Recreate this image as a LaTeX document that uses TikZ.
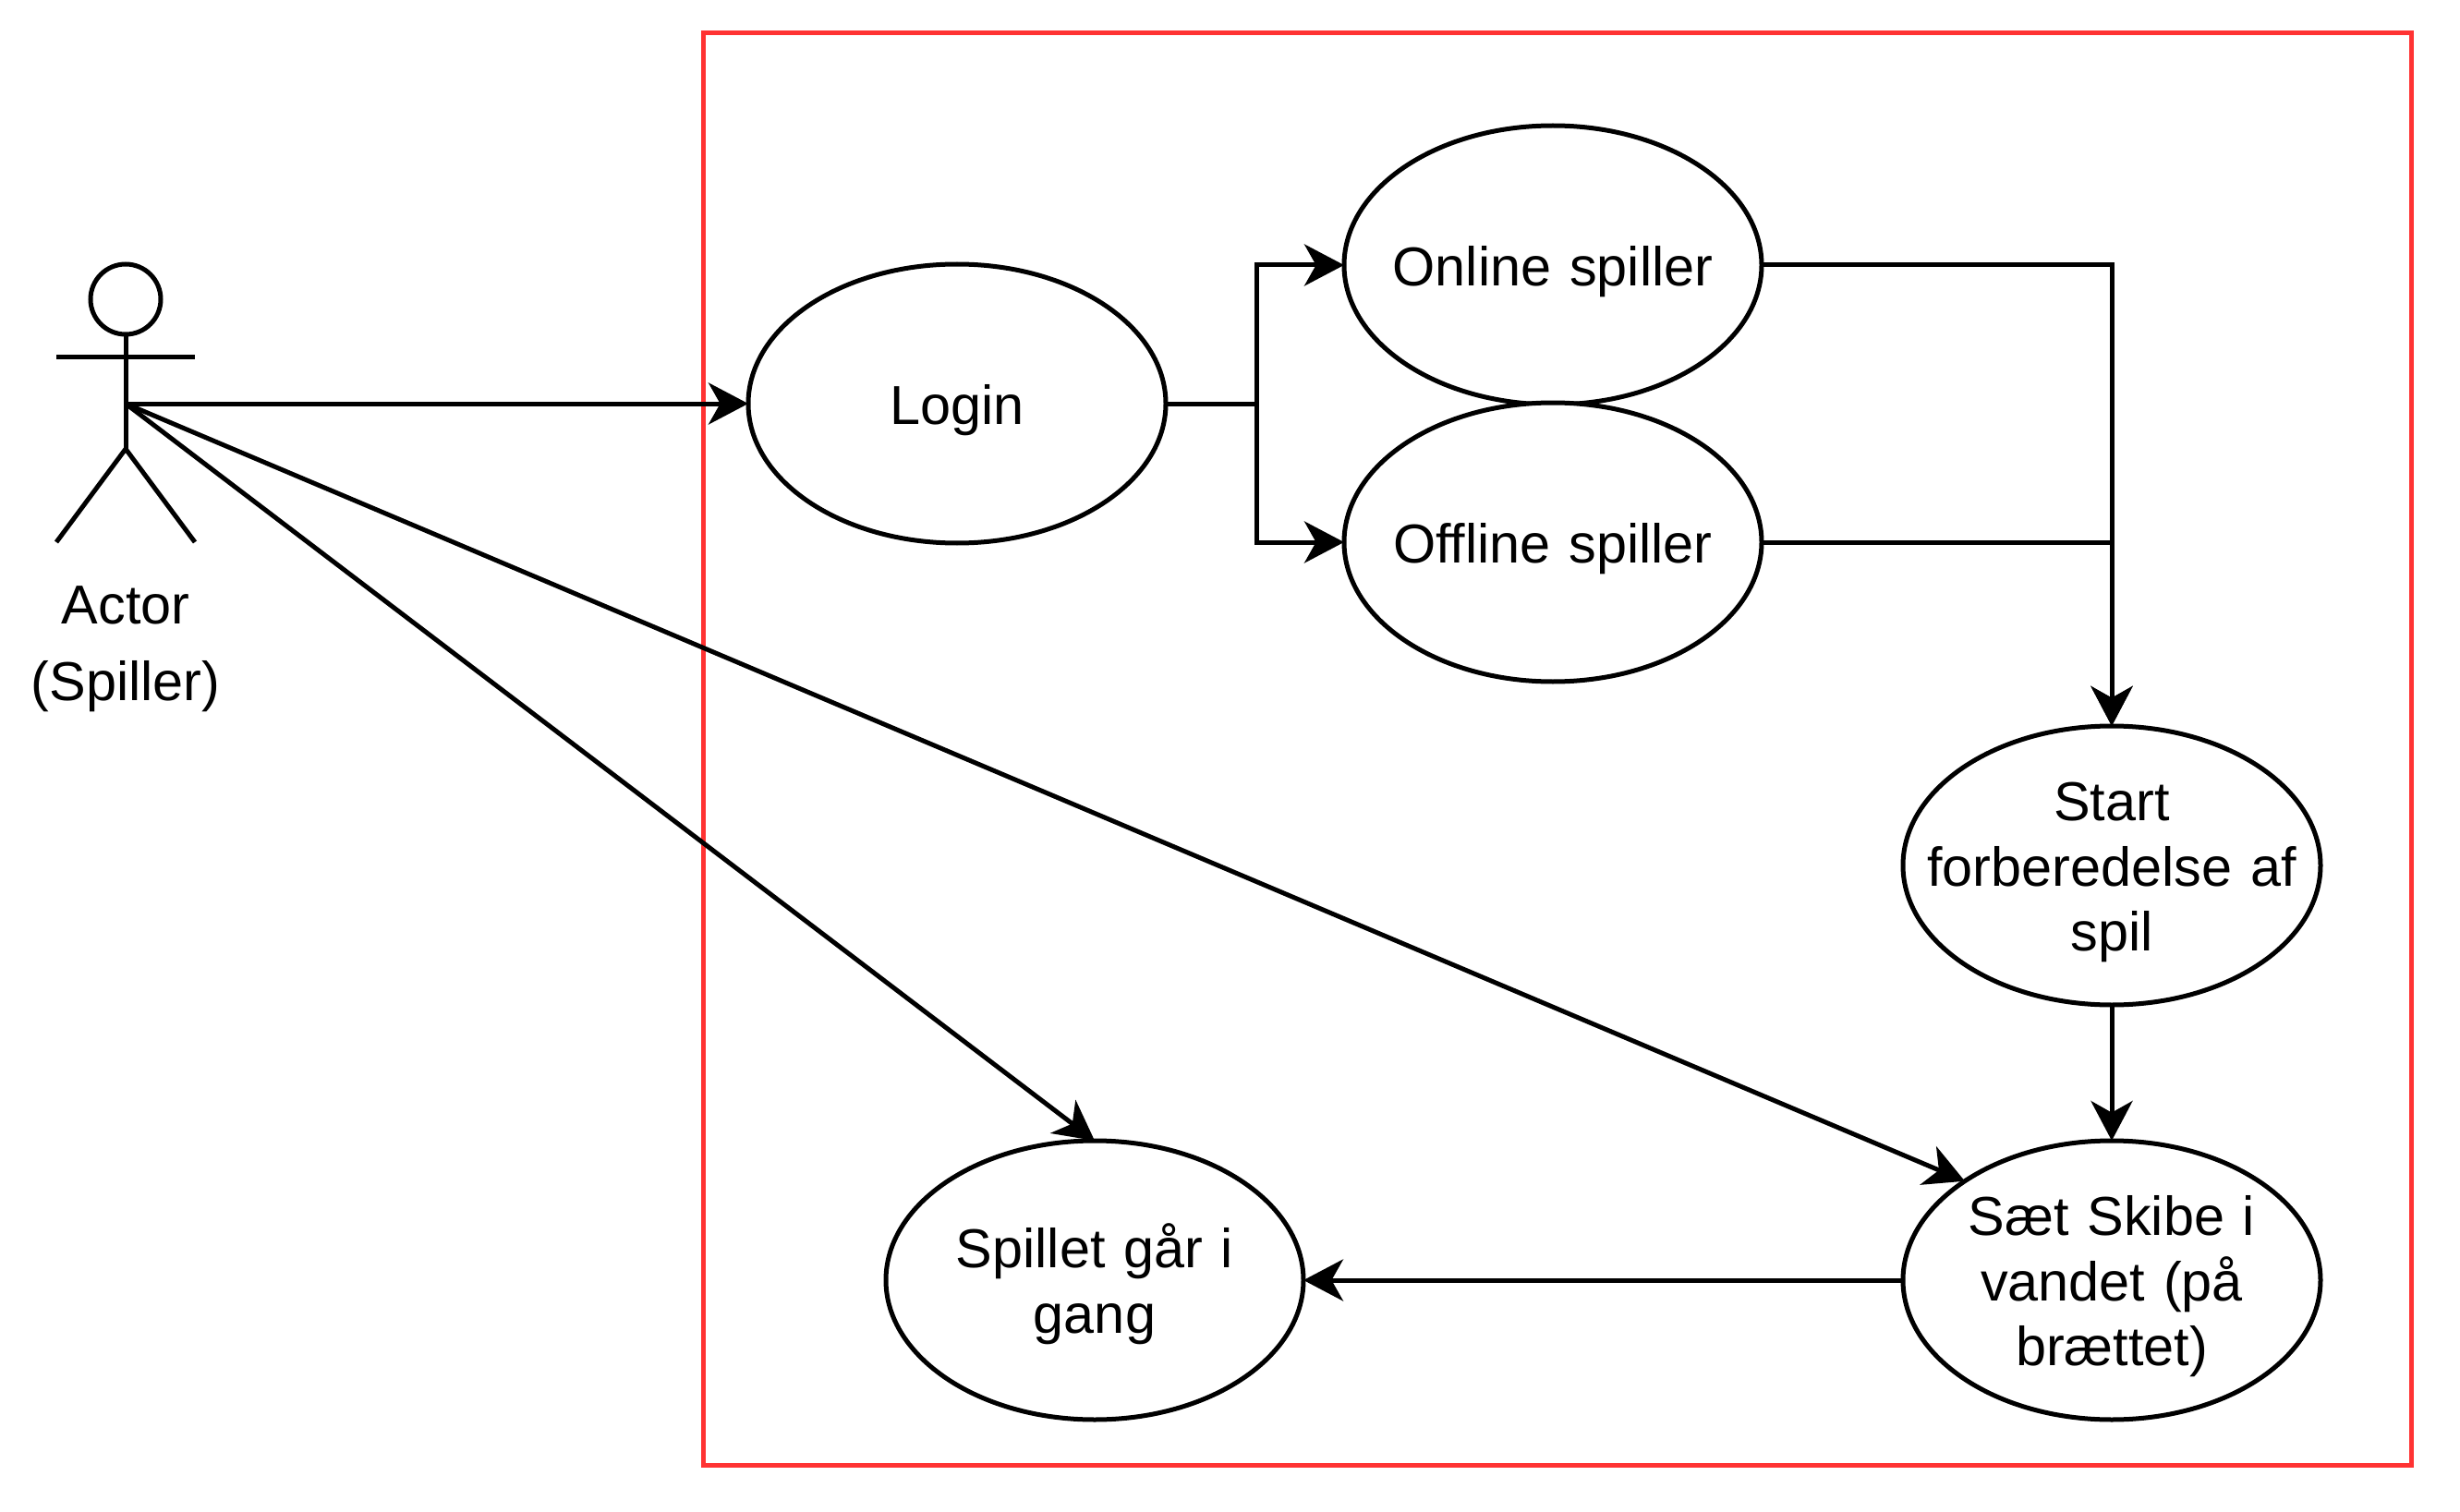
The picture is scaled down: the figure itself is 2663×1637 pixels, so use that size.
\documentclass[tikz,border=0pt]{standalone}
\usepackage{fontspec}
\setmainfont{Liberation Sans}
\usetikzlibrary{arrows.meta,shapes.geometric}
\tikzset{
  x=0.5pt,y=-0.5pt,
  usecase/.style={draw=black,line width=2.5pt,ellipse,fill=white,minimum width=226pt,minimum height=151pt,inner xsep=-30pt,inner ysep=-20pt,outer sep=0pt,align=center,text width=205pt,font=\fontsize{29.7}{35.3}\selectfont,execute at begin node={\rule{0pt}{28.4pt}}},
  actorline/.style={draw=black,line width=2.5pt},
  actorlabel/.style={inner sep=0pt,align=center,font=\fontsize{29.7}{41.5}\selectfont},
  link/.style={draw=black,line width=2.5pt,-{Stealth[length=21.5pt,width=22.5pt,inset=6.3pt]}},
  frame/.style={draw={rgb,255:red,255;green,51;blue,51},line width=2.5pt}
}
\begin{document}
\begin{tikzpicture}
\useasboundingbox (0,0) rectangle (2663,1637);
\draw[frame] (761,36) rectangle (2610,1586);
\node[usecase] (login) at (1036,437) {Login};
\node[usecase] (online) at (1681,287) {Online spiller};
\node[usecase] (offline) at (1681,587) {Offline spiller};
\node[usecase] (start) at (2286,937) {Start\\forberedelse af\\spil};
\node[usecase] (saet) at (2286,1386) {Sæt Skibe i\\vandet (på\\brættet)};
\node[usecase] (spillet) at (1185,1386) {Spillet går i\\gang};
% actor
\node[draw=black,line width=2.5pt,circle,minimum size=38pt,inner sep=0pt,outer sep=0pt] (head) at (136,324) {};
\coordinate (hip) at (136,486);
\coordinate (waist) at (136,437);
\coordinate (armL) at (61,387);
\coordinate (armR) at (211,387);
\coordinate (legL) at (61,587);
\coordinate (legR) at (211,587);
\coordinate (fork) at (1360,437);
\draw[actorline] (head.south) -- (hip);
\draw[actorline] (armL) -- (armR);
\draw[actorline] (legL) -- (hip) -- (legR);
\node[actorlabel] (actorlabel) at (136,703) {Actor\\(Spiller)};
% connectors
\draw[link] (waist) -- (login.west);
\draw[link] (login.east) -- (fork) |- (online.west);
\draw[link] (login.east) -- (fork) |- (offline.west);
\draw[link] (online.east) -| (start.north);
\draw[link] (offline.east) -| (start.north);
\draw[link] (start.south) -- (saet.north);
\draw[link] (saet.west) -- (spillet.east);
\draw[link] (waist) -- (saet.146.6);
\draw[link] (waist) -- (spillet.north);
\end{tikzpicture}
\end{document}
